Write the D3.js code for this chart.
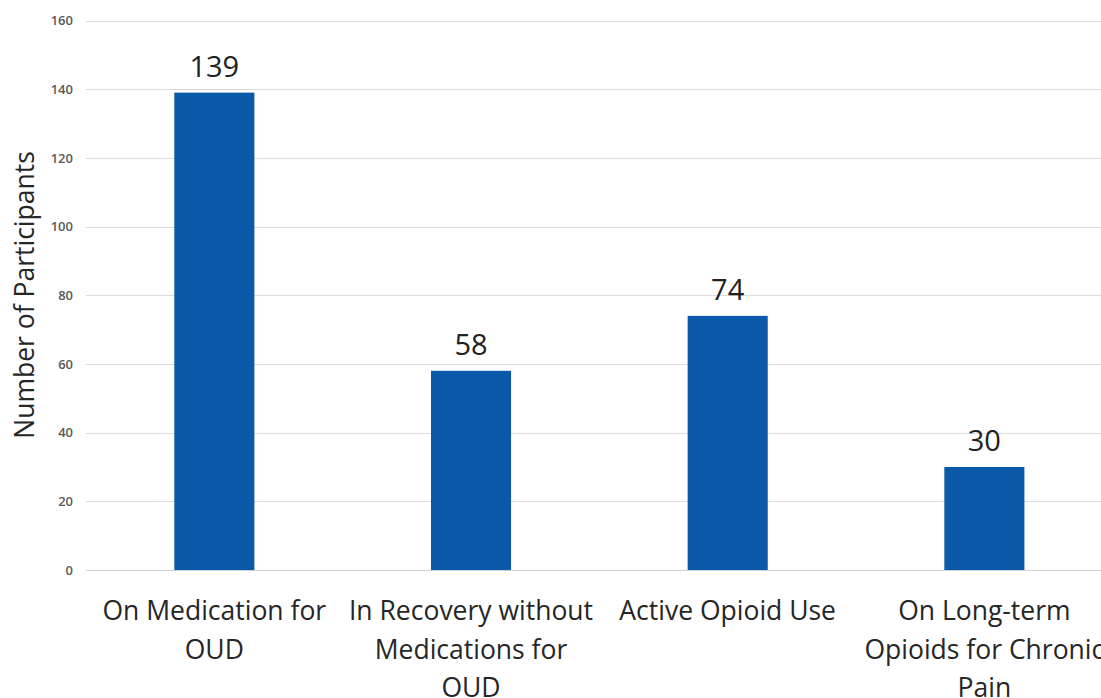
<!DOCTYPE html>
<html><head><meta charset="utf-8">
<script src="https://cdn.jsdelivr.net/npm/d3@7"></script>
<style>body{margin:0;background:#fff;}svg{display:block;}</style>
</head><body>
<svg id="chart" width="1101" height="698"></svg>
<script>
const categories = ["On Medication for OUD", "In Recovery without Medications for OUD", "Active Opioid Use", "On Long-term Opioids for Chronic Pain"];
const categoryLines = [["On Medication for", "OUD"], ["In Recovery without", "Medications for", "OUD"], ["Active Opioid Use"], ["On Long-term", "Opioids for Chronic", "Pain"]];
const values = [139, 58, 74, 30];
const yTicks = [0, 20, 40, 60, 80, 100, 120, 140, 160];
const yTitle = "Number of Participants";

const svg = d3.select("#chart");
const font = "'Open Sans', sans-serif";
const x = d3.scaleBand().domain(categories).range([86, 1112.7]).paddingInner(0.688).paddingOuter(0.344);
const y = d3.scaleLinear().domain([0, 160]).range([570, 20.5]);

// gridlines
svg.append("g").selectAll("line").data(yTicks).join("line")
  .attr("x1", 86).attr("x2", 1101)
  .attr("y1", d => Math.round(y(d)) + 0.5).attr("y2", d => Math.round(y(d)) + 0.5)
  .attr("stroke", d => d === 0 ? "#d0d0d0" : "#dcdcdc").attr("stroke-width", 1);

// y axis labels
const yAxis = d3.axisLeft(y).tickValues(yTicks).tickSize(0).tickPadding(0);
const gy = svg.append("g").attr("transform", "translate(73,0)").call(yAxis);
gy.select(".domain").remove();
gy.selectAll("text").attr("font-family", font).attr("font-size", 13).attr("font-weight", 600).attr("fill", "#595959");

// bars
svg.append("g").selectAll("rect").data(values).join("rect")
  .attr("x", (d, i) => x(categories[i])).attr("width", x.bandwidth())
  .attr("y", d => y(d)).attr("height", d => y(0) - y(d))
  .attr("fill", "#0a5aa9");

// value labels
svg.append("g").selectAll("text").data(values).join("text")
  .attr("x", (d, i) => x(categories[i]) + x.bandwidth() / 2)
  .attr("y", d => y(d) - 16)
  .attr("text-anchor", "middle").attr("font-family", font).attr("font-size", 29)
  .attr("fill", "#222").text(d => d);

// category labels
const cg = svg.append("g").selectAll("text").data(categories).join("text")
  .attr("text-anchor", "middle").attr("font-family", font).attr("font-size", 26.5).attr("fill", "#262626");
cg.each(function(c, i) {
  const t = d3.select(this);
  const cx = x(c) + x.bandwidth() / 2;
  categoryLines[i].forEach((ln, j) => {
    t.append("tspan").attr("x", cx).attr("y", 620 + j * 38.5).text(ln);
  });
});

// y title
svg.append("text").attr("transform", "translate(34,295) rotate(-90)")
  .attr("text-anchor", "middle").attr("font-family", font).attr("font-size", 26.5)
  .attr("fill", "#262626").text(yTitle);
</script>
</body></html>
